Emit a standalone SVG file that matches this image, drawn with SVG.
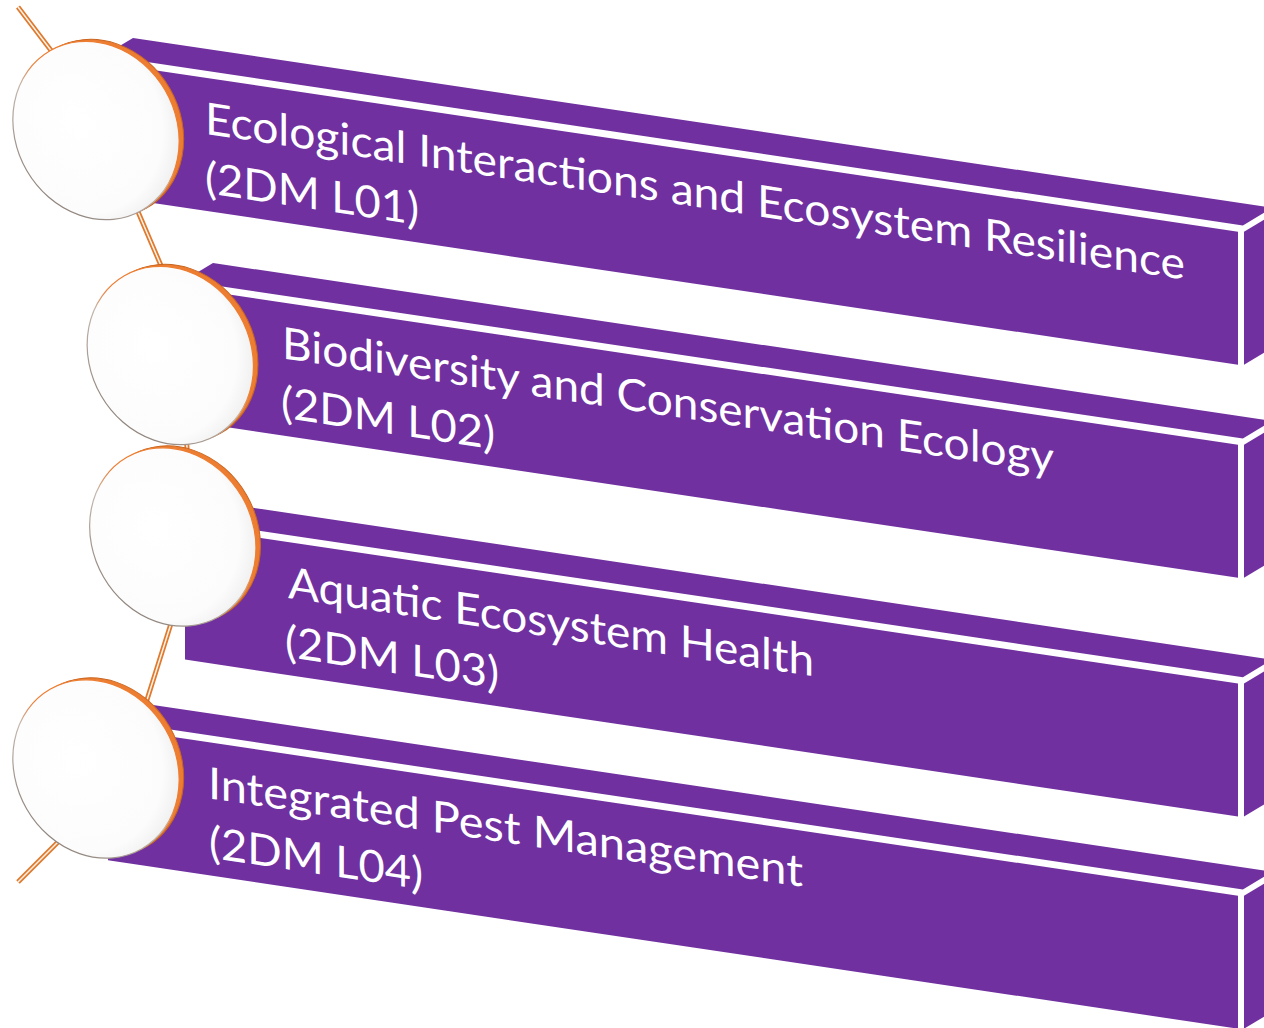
<svg xmlns="http://www.w3.org/2000/svg" width="1264" height="1028" viewBox="0 0 1264 1028">
<defs>
<style>
.bx {fill:#7030A0;}
.rim {fill:#ED7D31; stroke:#C9651F; stroke-width:1;}
.disc {fill:url(#discFill); stroke:url(#discEdge); stroke-width:1.2;}
.lbl {font-family: Lato, "Noto Sans", "Liberation Sans", sans-serif; font-size:44px; fill:#FFFFFF;}
.tube {fill:none; stroke:#DF7A2F; stroke-width:5; stroke-linejoin:round;}
.tube-core {fill:none; stroke:#FFF3E8; stroke-width:1.5; stroke-linejoin:round;}
</style>
<radialGradient id="discFill" cx="0.42" cy="0.4" r="0.65">
<stop offset="0" stop-color="#FFFFFF"/><stop offset="0.8" stop-color="#FCFCFC"/><stop offset="1" stop-color="#EEEEEE"/>
</radialGradient>
<linearGradient id="discEdge" x1="0" y1="0.75" x2="1" y2="0.25">
<stop offset="0" stop-color="#8A7F78"/><stop offset="0.45" stop-color="#C4B8AE"/><stop offset="0.6" stop-color="#ED7D31"/><stop offset="1" stop-color="#ED7D31"/>
</linearGradient>
</defs>
<rect width="1264" height="1028" fill="#FFFFFF"/>

<g id="connectors">
<path class="tube" d="M18,7 L75,82 L130,193 L168,282 L187,447 L180,595 L140,722 L70,830 L18,882"/>
<path class="tube-core" d="M18,7 L75,82 L130,193 L168,282 L187,447 L180,595 L140,722 L70,830 L18,882"/>
</g>

<g id="node1">
<polygon class="bx" points="133,38 1272.2,207.8 1242.9,225.4 103.6,55.6"/>
<polygon class="bx" points="104,62.7 1238,231.7 1238,364.7 104,195.7"/>
<polygon class="bx" points="1244,231.7 1300,198.1 1300,331.1 1244,364.7"/>
<g transform="translate(96,130.5)">
<ellipse class="rim" transform="translate(4.5,-2) rotate(-30)" rx="80" ry="92"/>
<ellipse class="disc" transform="rotate(-30)" rx="80" ry="92"/>
</g>
<text class="lbl" transform="matrix(1,0.149,0,1,205,133.7)" textLength="980" lengthAdjust="spacingAndGlyphs">Ecological Interactions and Ecosystem Resilience</text>
<text class="lbl" transform="matrix(1,0.149,0,1,205,193)" textLength="214" lengthAdjust="spacingAndGlyphs">(2DM L01)</text>
</g>

<g id="node2">
<polygon class="bx" points="213,263 1272.2,420.9 1242.9,438.5 183.6,280.7"/>
<polygon class="bx" points="184,287.7 1238,444.8 1238,577.8 184,420.7"/>
<polygon class="bx" points="1244,444.8 1300,411.2 1300,544.2 1244,577.8"/>
<g transform="translate(170.3,355.5)">
<ellipse class="rim" transform="translate(4.5,-2) rotate(-30)" rx="80" ry="92"/>
<ellipse class="disc" transform="rotate(-30)" rx="80" ry="92"/>
</g>
<text class="lbl" transform="matrix(1,0.149,0,1,282,358.3)" textLength="772" lengthAdjust="spacingAndGlyphs">Biodiversity and Conservation Ecology</text>
<text class="lbl" transform="matrix(1,0.149,0,1,281,417.5)" textLength="214" lengthAdjust="spacingAndGlyphs">(2DM L02)</text>
</g>

<g id="node3">
<polygon class="bx" points="250,507.3 1272.2,659.6 1242.9,677.2 220.6,524.9"/>
<polygon class="bx" points="185,526.6 1238,683.5 1238,816.5 185,659.6"/>
<polygon class="bx" points="1244,683.5 1300,649.9 1300,782.9 1244,816.5"/>
<g transform="translate(172.8,537)">
<ellipse class="rim" transform="translate(4.5,-2) rotate(-30)" rx="80" ry="92"/>
<ellipse class="disc" transform="rotate(-30)" rx="80" ry="92"/>
</g>
<text class="lbl" transform="matrix(1,0.149,0,1,288,597.9)" textLength="526" lengthAdjust="spacingAndGlyphs">Aquatic Ecosystem Health</text>
<text class="lbl" transform="matrix(1,0.149,0,1,285,656.8)" textLength="214" lengthAdjust="spacingAndGlyphs">(2DM L03)</text>
</g>

<g id="node4">
<polygon class="bx" points="153,705 1272.2,871.8 1242.9,889.4 123.6,722.6"/>
<polygon class="bx" points="108,727.3 1238,895.7 1238,1028.7 108,860.3"/>
<polygon class="bx" points="1244,895.7 1300,862.1 1300,995.1 1244,1028.7"/>
<g transform="translate(96,769)">
<ellipse class="rim" transform="translate(4.5,-2) rotate(-30)" rx="80" ry="92"/>
<ellipse class="disc" transform="rotate(-30)" rx="80" ry="92"/>
</g>
<text class="lbl" transform="matrix(1,0.149,0,1,208,798.2)" textLength="595" lengthAdjust="spacingAndGlyphs">Integrated Pest Management</text>
<text class="lbl" transform="matrix(1,0.149,0,1,209,857.6)" textLength="214" lengthAdjust="spacingAndGlyphs">(2DM L04)</text>
</g>
</svg>
